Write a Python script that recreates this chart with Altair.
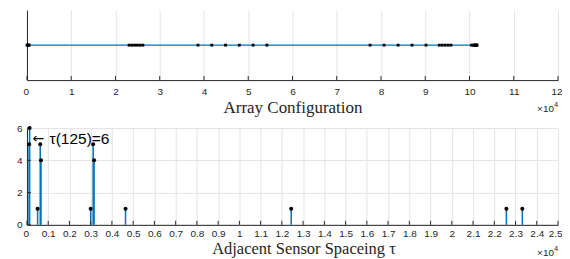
import altair as alt
import pandas as pd

# sensor positions (x 10^4)
positions = [0, 0.0125, 0.025, 0.0375, 0.05,
             2.307, 2.37, 2.432, 2.495, 2.557, 2.62,
             3.864, 4.176, 4.487, 4.799, 5.11, 5.422,
             7.754, 8.07, 8.386, 8.702, 9.018,
             9.318, 9.384, 9.45, 9.516, 9.582,
             10.046, 10.096, 10.109, 10.121, 10.131, 10.141, 10.151, 10.161, 10.171]

# adjacent spacing histogram (x 10^4)
tau_values = [0.01, 0.0125, 0.05, 0.0625, 0.066, 0.30, 0.3116, 0.316, 0.464, 1.244, 2.257, 2.332]
tau_counts = [5, 6, 1, 5, 4, 1, 5, 4, 1, 1, 1, 1]

top_ticks = [0, 1, 2, 3, 4, 5, 6, 7, 8, 9, 10, 11, 12]
bottom_ticks = [0, 0.1, 0.2, 0.3, 0.4, 0.5, 0.6, 0.7, 0.8, 0.9, 1, 1.1, 1.2, 1.3, 1.4, 1.5,
                1.6, 1.7, 1.8, 1.9, 2, 2.1, 2.2, 2.3, 2.4, 2.5]
y_ticks = [0, 2, 4, 6]

ann_x = [0.0125]
ann_y = [5.3]
ann_arrow = ["\u2190"]
ann_text = ["\u03c4(125)=6"]

W = 532
H1 = 70
H2 = 97
BLUE = "#0072BD"
AX = "#262626"
GRID = "#e4e4e4"
SANS = "Liberation Sans"
SERIF = "Liberation Serif"
LFS = 10

pos_df = pd.DataFrame({"pos": positions, "zero": [0] * len(positions)})
ttick_df = pd.DataFrame({"pos": top_ticks})
tau_df = pd.DataFrame({"tau": tau_values, "count": tau_counts, "zero": [0] * len(tau_values)})
btick_df = pd.DataFrame({"tau": bottom_ticks})
ytick_df = pd.DataFrame({"count": y_ticks})
ann_df = pd.DataFrame({"tau": ann_x, "count": ann_y, "arrow": ann_arrow, "label": ann_text})
one = pd.DataFrame({"a": [0]})

# ---------- top panel ----------
xs_top = alt.Scale(domain=[0, 12], nice=False, zero=False)
ys_top = alt.Scale(domain=[-1, 1], nice=False)
x_top_axis = alt.Axis(values=top_ticks, format="d", ticks=False, grid=True, gridColor=GRID,
                      domainColor=AX, labelColor=AX, labelFont=SANS, labelFontSize=LFS,
                      labelPadding=6, labelOverlap=False, labelFlush=True, labelFlushOffset=4,
                      title="Array Configuration", titleFont=SERIF,
                      titleFontSize=17, titleFontWeight="normal", titleColor=AX, titlePadding=3)
y_top_axis = alt.Axis(labels=False, ticks=False, grid=False, title=None, domainColor=AX,
                      minExtent=14, maxExtent=14)

X_TOP = alt.X("pos:Q", scale=xs_top, axis=x_top_axis)
Y_TOP = alt.Y("zero:Q", scale=ys_top, axis=y_top_axis)

line = alt.Chart(pos_df).mark_line(color=BLUE, strokeWidth=1.3).encode(x=X_TOP, y=Y_TOP)
pts = alt.Chart(pos_df).mark_square(color="black", size=8, opacity=1).encode(x=X_TOP, y=Y_TOP)
tticks = alt.Chart(ttick_df).mark_rule(color=AX, strokeWidth=1).encode(
    x=X_TOP, y=alt.value(H1), y2=alt.value(H1 - 4)
)
tx10 = alt.Chart(one).mark_text(align="right", baseline="middle", font=SANS, fontSize=10,
                                color=AX).encode(
    x=alt.value(W - 4), y=alt.value(H1 + 29), text=alt.value("\u00d710"))
tx4 = alt.Chart(one).mark_text(align="left", baseline="middle", font=SANS, fontSize=7.5,
                               color=AX).encode(
    x=alt.value(W - 4), y=alt.value(H1 + 25), text=alt.value("4"))

top = alt.layer(line, tticks, pts, tx10, tx4).properties(width=W, height=H1)

# ---------- bottom panel ----------
xs_b = alt.Scale(domain=[0, 2.5], nice=False, zero=False)
ys_b = alt.Scale(domain=[0, 6], nice=False)
x_b_axis = alt.Axis(values=bottom_ticks, format="~g", ticks=False, grid=True, gridColor=GRID,
                    domainColor=AX, labelColor=AX, labelFont=SANS, labelFontSize=LFS,
                    labelPadding=4, labelOverlap=False, labelFlush=True, labelFlushOffset=4,
                    title="Adjacent Sensor Spaceing \u03c4", titleFont=SERIF,
                    titleFontSize=16.5, titleFontWeight="normal", titleColor=AX, titlePadding=2,
                    titleX=W / 2 + 11)
y_b_axis = alt.Axis(values=y_ticks, ticks=False, grid=True, gridColor=GRID, domainColor=AX,
                    labelColor=AX, labelFont=SANS, labelFontSize=LFS, labelPadding=5,
                    labelOverlap=False, labelFlush=False,
                    title=None, minExtent=14, maxExtent=14)

X_B = alt.X("tau:Q", scale=xs_b, axis=x_b_axis)
Y_B = alt.Y("count:Q", scale=ys_b, axis=y_b_axis)

stems = alt.Chart(tau_df).mark_rule(color=BLUE, strokeWidth=1.5).encode(
    x=X_B, y=Y_B, y2="zero:Q",
)
dots = alt.Chart(tau_df).mark_circle(color="black", size=16, opacity=1).encode(x=X_B, y=Y_B)
bticks = alt.Chart(btick_df).mark_rule(color=AX, strokeWidth=1).encode(
    x=X_B, y=alt.value(H2), y2=alt.value(H2 - 4)
)
yticks = alt.Chart(ytick_df).mark_rule(color=AX, strokeWidth=1).encode(
    y=Y_B, x=alt.value(0), x2=alt.value(4)
)
ann_a = alt.Chart(ann_df).mark_text(align="left", baseline="middle", font="DejaVu Sans",
                                    fontSize=14, color="black", dx=3).encode(
    x=X_B, y=Y_B, text="arrow:N")
ann = alt.Chart(ann_df).mark_text(align="left", baseline="middle", font=SANS, fontSize=15.5,
                                  color="black", dx=20).encode(
    x=X_B, y=Y_B, text="label:N")
bx10 = alt.Chart(one).mark_text(align="right", baseline="middle", font=SANS, fontSize=10,
                                color=AX).encode(
    x=alt.value(W - 4), y=alt.value(H2 + 28), text=alt.value("\u00d710"))
bx4 = alt.Chart(one).mark_text(align="left", baseline="middle", font=SANS, fontSize=7.5,
                               color=AX).encode(
    x=alt.value(W - 4), y=alt.value(H2 + 24), text=alt.value("4"))

bottom = alt.layer(stems, bticks, yticks, dots, ann_a, ann, bx10, bx4).properties(width=W, height=H2)

chart = alt.vconcat(top, bottom, spacing=48, bounds="flush").configure_view(
    stroke=None
).properties(
    padding={"left": 5, "top": 2, "right": 0, "bottom": 0},
    background="white",
)

chart.save("out.html", embed_options={"renderer": "svg", "actions": False})
